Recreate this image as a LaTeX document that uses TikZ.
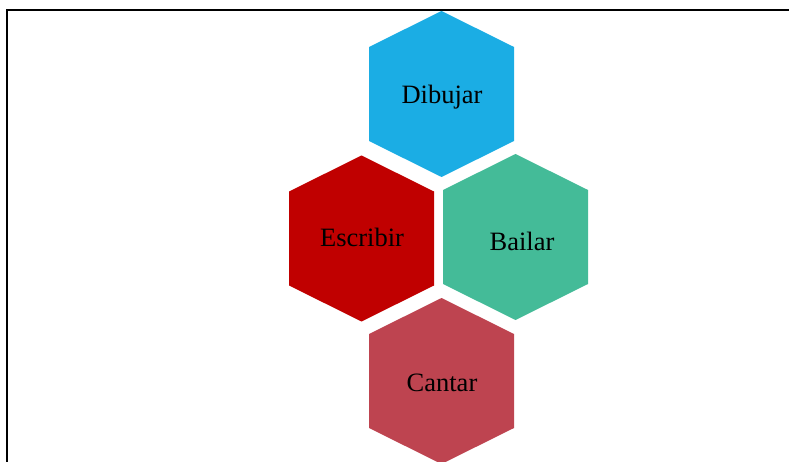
\documentclass[tikz,border=0pt]{standalone}
\usepackage{fontspec}
\setmainfont{Liberation Serif}
\usetikzlibrary{shapes}
\definecolor{azul}{HTML}{1BADE4}
\definecolor{rojo}{HTML}{C00000}
\definecolor{verde}{HTML}{44BB98}
\definecolor{granate}{HTML}{BE4450}
\tikzstyle{lbl}=[anchor=base,inner sep=0pt,font=\fontsize{26.5}{30}\selectfont]
\tikzstyle{hexa}=[draw=none]
% hexagon around the current point
\newcommand{\hexa}{+(0,-83) -- +(72.5,-47) -- +(72.5,47) -- +(0,83) -- +(-72.5,47) -- +(-72.5,-47) -- cycle}

\begin{document}
\begin{tikzpicture}[x=1pt,y=-1pt]
\useasboundingbox (0,0) rectangle (789,462);
\clip (0,0) rectangle (789,462);
\draw[line width=2pt] (7,470) -- (7,10) -- (795,10);
\fill[hexa,azul] (441.5,94) \hexa;
\fill[hexa,rojo] (361.5,238.5) \hexa;
\fill[hexa,verde] (515.5,237) \hexa;
\fill[hexa,granate] (441.5,381) \hexa;
\node[lbl] (dibujar) at (442,104) {Dibujar};
\node[lbl] (escribir) at (362,247) {Escribir};
\node[lbl] (bailar) at (522,251) {Bailar};
\node[lbl] (cantar) at (442,391) {Cantar};
\end{tikzpicture}
\end{document}
